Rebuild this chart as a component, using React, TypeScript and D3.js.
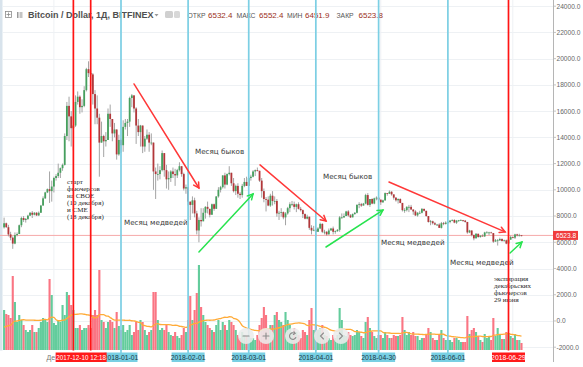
import React from "react";
import * as d3 from "d3";

const W = 583;
const H = 367;

// ---- data ----
const START = "2017-11-08";
const firstOpen = 7140;
const closes = [
  7450, 7150, 6600, 6350, 5900, 6550, 6630, 7300, 7850, 7700, 7780, 8030, 8250, 8100, 8250, 8050, 8250, 8800, 9350, 9800, 10050, 9900, 10250,
  10900, 11050, 11300, 11650, 11900, 14100, 16400, 15600, 14700, 14900, 16700, 17100, 16300, 16400, 17600, 19200, 18900, 18800, 17300, 16200, 15500, 13600, 14100, 13700, 13800, 15800, 15400, 14300, 14600, 12700, 13800,
  13400, 14800, 15100, 15200, 17000, 17200, 16200, 14900, 14400, 14900, 13300, 13900, 14200, 13600, 13600, 11400, 11200, 11200, 11500, 12800, 11500, 10800, 10900, 11400, 11200, 11100, 11500, 11800, 11200, 10100, 10200,
  9100, 8850, 9200, 8200, 6900, 7700, 7600, 8250, 8700, 8550, 8100, 8900, 8550, 9500, 10000, 10200, 11100, 10400, 11200, 11300, 10500, 9900, 10300, 9700, 9600, 10300, 10600, 10300,
  10900, 11000, 11400, 11500, 11450, 10700, 9900, 9300, 9250, 8800, 9550, 9150, 9150, 8200, 8250, 8300, 7900, 8200, 8600, 8900, 8900, 8700, 8900, 8550, 8450, 8150, 7800, 7950, 7100, 6900, 6950,
  6800, 7050, 7400, 6800, 6800, 6600, 6900, 7050, 6800, 6850, 6950, 7900, 7900, 8000, 8350, 8050, 7900, 8150, 8250, 8850, 8900, 8800, 8950, 9600, 8850, 9300, 8950, 9350, 9400, 9250,
  9050, 9200, 9750, 9700, 9850, 9650, 9400, 9200, 9300, 9000, 8450, 8450, 8700, 8700, 8500, 8350, 8050, 8250, 8250, 8550, 8400, 8000, 7550, 7600, 7450, 7350, 7350, 7100, 7450, 7400, 7500,
  7550, 7650, 7700, 7500, 7650, 7700, 7700, 7650, 7550, 6750, 6900, 6550, 6300, 6650, 6400, 6500, 6450, 6750, 6750, 6750, 6700, 6050, 6150, 6150, 6250, 6100, 6150, 5900, 6200, 6400,
  6350, 6600, 6520, 6532.4, 6523.8,
];
const highs = [
  7880, 7500, 7330, 6800, 6450, 6750, 6750, 7350, 7950, 8000, 7850, 8100, 8300, 8380, 8300, 8300, 8350, 8850, 9500, 9850, 10100, 11400, 10700,
  11000, 11200, 12000, 11700, 12000, 14300, 16700, 17100, 16000, 15500, 17200, 17500, 17200, 16900, 17900, 19300, 19800, 19100, 18900, 17600, 17200, 15800, 15200, 14200, 14400, 16200, 16500, 15400, 15100, 14600, 14200,
  13900, 15300, 15400, 15400, 17100, 17300, 17100, 16300, 15400, 14950, 14900, 14100, 14600, 14400, 14300, 13600, 11700, 12000, 11800, 13000, 12800, 11900, 11400, 11500, 11700, 11600, 11600, 12100, 11800, 11300, 10400,
  10200, 9100, 9500, 9400, 8400, 7900, 8600, 8600, 8750, 9100, 8550, 8950, 8950, 9500, 10200, 10300, 11100, 11300, 11250, 11800, 11300, 10900, 10400, 10500, 9850, 10450, 10900, 11000,
  11000, 11150, 11500, 11550, 11700, 11450, 10900, 10100, 9450, 9500, 9700, 9900, 9500, 9300, 8400, 8600, 8350, 8300, 8700, 9050, 9150, 9100, 8950, 9050, 8700, 8500, 8200, 8100, 7950, 7300, 7250,
  7050, 7150, 7500, 7450, 6950, 6850, 7050, 7100, 7200, 6900, 7000, 8000, 8200, 8200, 8400, 8450, 8150, 8200, 8300, 8900, 9050, 9000, 9000, 9700, 9750, 9300, 9350, 9400, 9500, 9450,
  9250, 9250, 9800, 9750, 9950, 9900, 9650, 9450, 9350, 9350, 9000, 8600, 8750, 8850, 8850, 8500, 8450, 8300, 8400, 8600, 8550, 8400, 8000, 7700, 7650, 7550, 7400, 7450, 7550, 7550, 7600,
  7600, 7700, 7750, 7750, 7700, 7700, 7750, 7700, 7700, 7550, 6950, 6900, 6600, 6700, 6650, 6550, 6600, 6800, 6850, 6800, 6800, 6700, 6250, 6250, 6350, 6300, 6200, 6200, 6300, 6500,
  6450, 6650, 6650, 6650, 6552.4,
];
const lows = [
  7050, 7100, 6450, 6150, 5500, 5850, 6450, 6640, 7150, 7550, 7500, 7700, 8000, 7850, 8050, 8000, 8000, 8250, 8800, 9300, 9750, 9000, 9100,
  9800, 10700, 10900, 10900, 11450, 11850, 13800, 13700, 13300, 13000, 14800, 16500, 15800, 15900, 16300, 17500, 18600, 17900, 16500, 15000, 15000, 11000, 13600, 12500, 13300, 13800, 14800, 13700, 14000, 12300, 12600,
  12800, 12900, 14600, 14100, 14800, 16300, 15900, 13500, 14100, 13300, 12800, 12900, 13800, 12900, 13400, 10000, 9300, 10700, 10800, 11400, 11000, 10100, 10000, 10600, 10900, 10300, 10900, 11400, 11000, 9950, 9700,
  8800, 7700, 8200, 7900, 6600, 6000, 7200, 7600, 7800, 8200, 7900, 8100, 8400, 8550, 9400, 9800, 10100, 10100, 10350, 11100, 10300, 9800, 9600, 9400, 9300, 9400, 10200, 10300,
  10300, 10700, 10950, 11050, 11400, 10600, 9400, 9050, 8350, 8750, 8700, 8800, 8900, 7950, 7700, 7950, 7750, 7300, 8100, 8300, 8750, 8500, 8300, 8500, 8350, 7850, 7750, 7750, 6950, 6600, 6850,
  6450, 6800, 7000, 6700, 6600, 6500, 6600, 6900, 6600, 6650, 6800, 6800, 7800, 7850, 8000, 7950, 7850, 7900, 8100, 8200, 8600, 8700, 8800, 8900, 8800, 8700, 8900, 8900, 9200, 9150,
  8850, 9000, 9150, 9550, 9700, 9550, 9250, 9100, 8950, 8980, 8350, 8250, 8350, 8300, 8450, 8100, 8000, 7950, 8150, 8200, 8350, 7950, 7500, 7300, 7350, 7300, 7250, 7100, 7050, 7300, 7350,
  7400, 7450, 7600, 7450, 7400, 7550, 7650, 7550, 7500, 6650, 6700, 6450, 6150, 6300, 6350, 6350, 6450, 6400, 6700, 6550, 6700, 5950, 6050, 5750, 6100, 6050, 6050, 5850, 5800, 6200,
  6300, 6250, 6450, 6450, 6451.9,
];
// volume (thousand BTC)
const volumes = [
  40, 36, 35, 32, 74, 48, 28, 35, 30, 25, 20, 18, 20, 25, 18, 18, 22, 28, 32, 30, 28, 71, 55,
  27, 25, 30, 28, 45, 35, 58, 55, 45, 40, 22, 22, 25, 20, 22, 22, 25, 22, 35, 40, 35, 80, 30, 28, 22, 28, 30, 28, 22, 38, 24,
  20, 25, 18, 20, 25, 15, 18, 28, 20, 30, 28, 20, 15, 18, 20, 58, 58, 30, 20, 22, 20, 25, 18, 15, 14, 18, 14, 12, 15, 22, 18,
  30, 54, 30, 40, 57, 85, 43, 35, 28, 25, 22, 20, 18, 25, 30, 20, 28, 25, 20, 30, 28, 25, 20, 15, 12, 18, 15, 14,
  14, 12, 12, 10, 15, 25, 32, 43, 35, 20, 25, 25, 35, 38, 30, 28, 25, 38, 30, 25, 18, 22, 18, 15, 12, 20, 18, 15, 30, 42, 20,
  25, 20, 22, 25, 15, 14, 12, 10, 15, 12, 15, 42, 30, 15, 14, 18, 15, 14, 15, 20, 18, 14, 12, 28, 33, 22, 18, 14, 12, 15,
  15, 12, 18, 15, 12, 12, 15, 14, 14, 15, 33, 20, 15, 18, 15, 18, 14, 14, 10, 12, 12, 15, 22, 18, 12, 10, 10, 15, 20, 12, 10,
  10, 10, 8, 12, 12, 10, 8, 8, 8, 34, 16, 20, 22, 18, 14, 10, 8, 16, 12, 14, 10, 32, 14, 22, 16, 11, 11, 18, 16, 14,
  12, 16, 10, 10, 7,
];
// volumes of the days before the first visible bar (feed the 20-day average)
const volumePrior = [22, 20, 24, 21, 19, 25, 23, 20, 22, 26, 21, 18, 24, 22, 20, 23, 25, 21, 22];
const MA_LEN = 20;

const priceTicks = [-2000, 0, 2000, 4000, 6000, 8000, 10000, 12000, 14000, 16000, 18000, 20000, 22000, 24000];
const lastPrice = 6523.8;

const header = { symbol: "Bitcoin / Dollar, 1Д, BITFINEX", o: "6532.4", h: "6552.4", l: "6451.9", c: "6523.8" };

const redLines = ["2017-12-10", "2017-12-18", "2018-06-29"];
const cyanLines = ["2018-01-01", "2018-02-01", "2018-03-01", "2018-04-01", "2018-04-30", "2018-06-01"];
const monthGrid = ["2017-12-01", "2018-01-01", "2018-02-01", "2018-03-01", "2018-04-01", "2018-05-01", "2018-06-01", "2018-07-01"];
// only the December month label is left uncovered by the marker boxes (and only partly)
const visibleMonthLabel = { at: "2017-12-01", text: "Де" };

const axisBoxes = [
  { at: "2018-01-01", text: "2018-01-01", kind: "cyan" },
  { at: "2018-02-01", text: "2018-02-01", kind: "cyan" },
  { at: "2018-03-01", text: "2018-03-01", kind: "cyan" },
  { at: "2018-04-01", text: "2018-04-01", kind: "cyan" },
  { at: "2018-04-30", text: "2018-04-30", kind: "cyan" },
  { at: "2018-06-01", text: "2018-06-01", kind: "cyan" },
  { at: "2017-12-13T14:00", text: "2017-12-10 12:18", kind: "red" },
  { at: "2018-06-29", text: "2018-06-29", kind: "red" },
];

const arrows = [
  { from: ["2018-01-07T00:00", 18070], to: ["2018-02-06T00:00", 10140], color: "red" },
  { from: ["2018-03-06T05:00", 11900], to: ["2018-04-05T17:00", 7625], color: "red" },
  { from: ["2018-05-04T19:00", 10600], to: ["2018-06-27T10:00", 6790], color: "red" },
  { from: ["2018-02-06T00:00", 5260], to: ["2018-03-03T00:00", 9680], color: "green" },
  { from: ["2018-04-05T17:00", 5640], to: ["2018-05-02T00:00", 8460], color: "green" },
  { from: ["2018-06-29T17:00", 5185], to: ["2018-07-05T05:00", 6025], color: "green" },
];

const monthNotes = [
  { at: "2018-01-02T09:00", price: 7282, text: "Месяц медведей" },
  { at: "2018-02-04T04:00", price: 12695, text: "Месяц быков" },
  { at: "2018-04-04T07:00", price: 10789, text: "Месяц быков" },
  { at: "2018-05-01T02:00", price: 5757, text: "Месяц медведей" },
  { at: "2018-06-01T23:00", price: 4232, text: "Месяц медведей" },
];
const blockNotes = [
  { at: "2017-12-07T02:00", price: 10410, lines: ["старт", "фьючерсов", "на CBOE", "(10 декабря)", "и CME", "(18 декабря)"] },
  { at: "2018-06-22T07:00", price: 3010, lines: ["экспирация", "декабрьских", "фьючерсов", "29 июня"] },
];

// ---- helpers ----
const parse = (s: string) => new Date(s.length <= 10 ? s + "T00:00:00Z" : s + ":00Z");

const PLOT_R = 553;
const PLOT_B = 350;

const x = d3.scaleUtc().domain([parse("2018-01-01"), parse("2018-06-29")]).range([121, 508.5]);
const y = d3.scaleLinear().domain([-2000, 24000]).range([347.2, 6.2]);
const yVol = d3.scaleLinear().domain([0, 100]).range([PLOT_B, PLOT_B - 100]);

const UP = "#46a05e";
const DOWN = "#b2373a";
const VUP = "#63cc9c";
const VDOWN = "#fa7583";
const CYAN = "#7ccfe4";
const RED = "#ff1414";
const SANS = "'Liberation Sans', Arial, sans-serif";

export default function App() {
  const start = parse(START);
  const bars = closes.map((c, i) => {
    const o = i === 0 ? firstOpen : closes[i - 1];
    return { date: d3.utcDay.offset(start, i), o, h: Math.max(highs[i], o, c), l: Math.min(lows[i], o, c), c, v: volumes[i] };
  });
  const allVol = [...volumePrior, ...volumes];
  const ma = volumes.map((_, i) => {
    const j = i + volumePrior.length;
    const win = allVol.slice(Math.max(0, j - MA_LEN + 1), j + 1);
    return d3.mean(win) as number;
  });
  const maLine = d3
    .line<number>()
    .x((_, i) => x(bars[i].date))
    .y((d) => yVol(d))
    .curve(d3.curveMonotoneX)(ma) as string;

  const bw = 1.8;
  const vbw = 2.1;

  const arrowEls = arrows.map((a, k) => {
    const x1 = x(parse(a.from[0] as string));
    const y1 = y(a.from[1] as number);
    const x2 = x(parse(a.to[0] as string));
    const y2 = y(a.to[1] as number);
    const ang = Math.atan2(y2 - y1, x2 - x1);
    const hl = 6;
    const sp = 0.5;
    const col = a.color === "red" ? "#ff3838" : "#27e34e";
    const h1 = [x2 - hl * Math.cos(ang - sp), y2 - hl * Math.sin(ang - sp)];
    const h2 = [x2 - hl * Math.cos(ang + sp), y2 - hl * Math.sin(ang + sp)];
    return (
      <g key={k} stroke={col} strokeWidth={1.5} fill="none" strokeLinecap="round">
        <line x1={x1} y1={y1} x2={x2} y2={y2} />
        <polyline points={`${h1[0]},${h1[1]} ${x2},${y2} ${h2[0]},${h2[1]}`} />
      </g>
    );
  });

  const btnY = 336;
  const buttons = [246, 266, 293, 322, 341];

  return (
    <svg width={W} height={H} style={{ position: "absolute", left: 0, top: 0, background: "#fff" }} fontFamily={SANS}>
      <defs>
        <clipPath id="plot">
          <rect x={0} y={0} width={PLOT_R} height={PLOT_B} />
        </clipPath>
      </defs>
      <rect x={0} y={0} width={W} height={H} fill="#fff" />
      <rect x={0} y={0} width={2.5} height={H} fill="#d8e3ec" />

      {/* grid */}
      <g stroke="#eef1f4" strokeWidth={1}>
        {priceTicks.map((t) => (
          <line key={t} x1={3} x2={PLOT_R} y1={Math.round(y(t)) + 0.5} y2={Math.round(y(t)) + 0.5} />
        ))}
        {monthGrid.map((m) => (
          <line key={m} x1={x(parse(m))} x2={x(parse(m))} y1={0} y2={PLOT_B} />
        ))}
      </g>

      <g clipPath="url(#plot)">
        {/* volume */}
        {bars.map((b, i) => (
          <rect key={"v" + i} x={x(b.date) - vbw / 2} width={vbw} y={yVol(b.v)} height={PLOT_B - yVol(b.v)} fill={b.c >= b.o ? VUP : VDOWN} />
        ))}
        <path d={maLine} fill="none" stroke="#ffab38" strokeWidth={1.3} />

        {/* last price line */}
        <line x1={0} x2={PLOT_R} y1={y(lastPrice)} y2={y(lastPrice)} stroke="#f6aaaa" strokeWidth={1} />

        {/* candles */}
        {bars.map((b, i) => {
          const cx = x(b.date);
          const top = y(Math.max(b.o, b.c));
          const bot = y(Math.min(b.o, b.c));
          return (
            <g key={"c" + i}>
              <line x1={cx} x2={cx} y1={y(b.h)} y2={y(b.l)} stroke="#9a9a9a" strokeWidth={0.9} />
              <rect x={cx - bw / 2} width={bw} y={top} height={Math.max(0.8, bot - top)} fill={b.c >= b.o ? UP : DOWN} />
            </g>
          );
        })}
      </g>

      {/* header */}
      <g fill="#4d4d4d">
        <rect x={5.5} y={11.5} width={6} height={6} fill="none" stroke="#8a8a8a" strokeWidth={0.8} />
        <line x1={8.5} x2={8.5} y1={12.5} y2={16.5} stroke="#8a8a8a" strokeWidth={0.8} />
        <line x1={6.5} x2={10.5} y1={14.5} y2={14.5} stroke="#8a8a8a" strokeWidth={0.8} />
        <rect x={17} y={12} width={1.5} height={6} fill="#9a9a9a" />
        <rect x={19.5} y={12} width={3} height={6} fill="#c4c4c4" />
        <text x={28} y={18} fontSize={9} fontWeight={600} fill="#505050">{header.symbol}</text>
        <path d="M154.5,14 L158.5,14 L156.5,16.5 Z" fill="#999" />
        <rect x={165} y={11} width={8} height={7} rx={1.5} fill="#d0d0d0" />
        <rect x={174} y={11} width={6} height={7} rx={1.5} fill="#d8d8d8" />
        <text x={187.5} y={17.5} fontSize={6.8} fill="#555">ОТКР</text>
        <text x={208} y={17.5} fontSize={8} fill="#9b2f22">{header.o}</text>
        <text x={236.5} y={17.5} fontSize={6.8} fill="#555">МАКС</text>
        <text x={259} y={17.5} fontSize={8} fill="#9b2f22">{header.h}</text>
        <text x={287} y={17.5} fontSize={6.8} fill="#555">МИН</text>
        <text x={305} y={17.5} fontSize={8} fill="#9b2f22">{header.l}</text>
        <text x={336.5} y={17.5} fontSize={6.8} fill="#555">ЗАКР</text>
        <text x={358.5} y={17.5} fontSize={8} fill="#9b2f22">{header.c}</text>
      </g>

      {/* annotation texts */}
      {monthNotes.map((n, i) => (
        <text key={"m" + i} x={x(parse(n.at))} y={y(n.price)} fontSize={7.2} fontFamily="'DejaVu Sans', sans-serif" fill="#3a3a3a">
          {n.text}
        </text>
      ))}
      {blockNotes.map((n, i) => (
        <text key={"b" + i} fontSize={7} fontFamily="'Liberation Serif', serif" fill="#2a2a2a">
          {n.lines.map((l, j) => (
            <tspan key={j} x={x(parse(n.at))} y={y(n.price) + j * 7}>
              {l}
            </tspan>
          ))}
        </text>
      ))}

      {/* vertical marker lines */}
      {cyanLines.map((d) => (
        <line key={d} x1={x(parse(d))} x2={x(parse(d))} y1={0} y2={PLOT_B + 2} stroke={CYAN} strokeWidth={1.7} />
      ))}
      {redLines.map((d) => (
        <line key={d} x1={x(parse(d))} x2={x(parse(d))} y1={0} y2={PLOT_B + 2} stroke={RED} strokeWidth={1.7} />
      ))}

      {arrowEls}

      {/* zoom buttons */}
      {buttons.map((bx, i) => (
        <g key={"btn" + i}>
          <circle cx={bx} cy={btnY} r={8} fill="rgba(236,236,236,0.88)" />
        </g>
      ))}
      <g stroke="#8c8c8c" strokeWidth={1.1} fill="none" strokeLinecap="round">
        <line x1={243} x2={249} y1={btnY} y2={btnY} />
        <line x1={263} x2={269} y1={btnY} y2={btnY} />
        <line x1={266} x2={266} y1={btnY - 3} y2={btnY + 3} />
        <path d={`M${293 + 2.8},${btnY + 1.5} A3.3,3.3 0 1 1 ${293 + 1.5},${btnY - 2.8}`} />
        <path d={`M${293 + 1},${btnY - 4.2} L${293 + 2.2},${btnY - 2.6} L${293 + 0.4},${btnY - 1.6}`} />
        <polyline points={`${323.5},${btnY - 3} ${320.5},${btnY} ${323.5},${btnY + 3}`} />
        <polyline points={`${339.5},${btnY - 3} ${342.5},${btnY} ${339.5},${btnY + 3}`} />
      </g>

      {/* right axis */}
      <rect x={PLOT_R} y={0} width={W - PLOT_R} height={H} fill="#fff" />
      <line x1={PLOT_R + 0.5} x2={PLOT_R + 0.5} y1={0} y2={362} stroke="#b5b5b5" strokeWidth={1} />
      {priceTicks.map((t) => (
        <g key={"t" + t}>
          <line x1={PLOT_R} x2={PLOT_R + 3} y1={y(t)} y2={y(t)} stroke="#b5b5b5" strokeWidth={0.8} />
          <text x={PLOT_R + 3.5} y={y(t) + 2.4} fontSize={6.6} fill="#666">
            {t.toFixed(1)}
          </text>
        </g>
      ))}
      <rect x={PLOT_R} y={y(lastPrice) - 4.5} width={25} height={9} fill="#f03c3c" />
      <text x={PLOT_R + 3} y={y(lastPrice) + 2.4} fontSize={6.6} fill="#fff">
        {lastPrice.toFixed(1)}
      </text>

      {/* bottom axis */}
      <rect x={0} y={PLOT_B + 0.5} width={PLOT_R} height={H - PLOT_B} fill="#fff" />
      <text x={x(parse(visibleMonthLabel.at)) - 7.5} y={359.8} fontSize={7} fill="#777">
        {visibleMonthLabel.text}
      </text>
      {cyanLines.map((d) => (
        <line key={"bx" + d} x1={x(parse(d))} x2={x(parse(d))} y1={PLOT_B} y2={353} stroke={CYAN} strokeWidth={1.7} />
      ))}
      {axisBoxes.map((b, i) => {
        const cx = x(parse(b.at));
        const long = b.text.length > 10;
        const w = long ? 51 : 33;
        return (
          <g key={"ab" + i}>
            <rect x={cx - w / 2} y={352.5} width={w} height={9.5} fill={b.kind === "red" ? "#ff1a1a" : "#78cfe3"} />
            <text x={cx} y={359.8} fontSize={long ? 6.3 : 6.8} textAnchor="middle" fill={b.kind === "red" ? "#fff" : "#1b3946"}>
              {b.text}
            </text>
          </g>
        );
      })}
    </svg>
  );
}
